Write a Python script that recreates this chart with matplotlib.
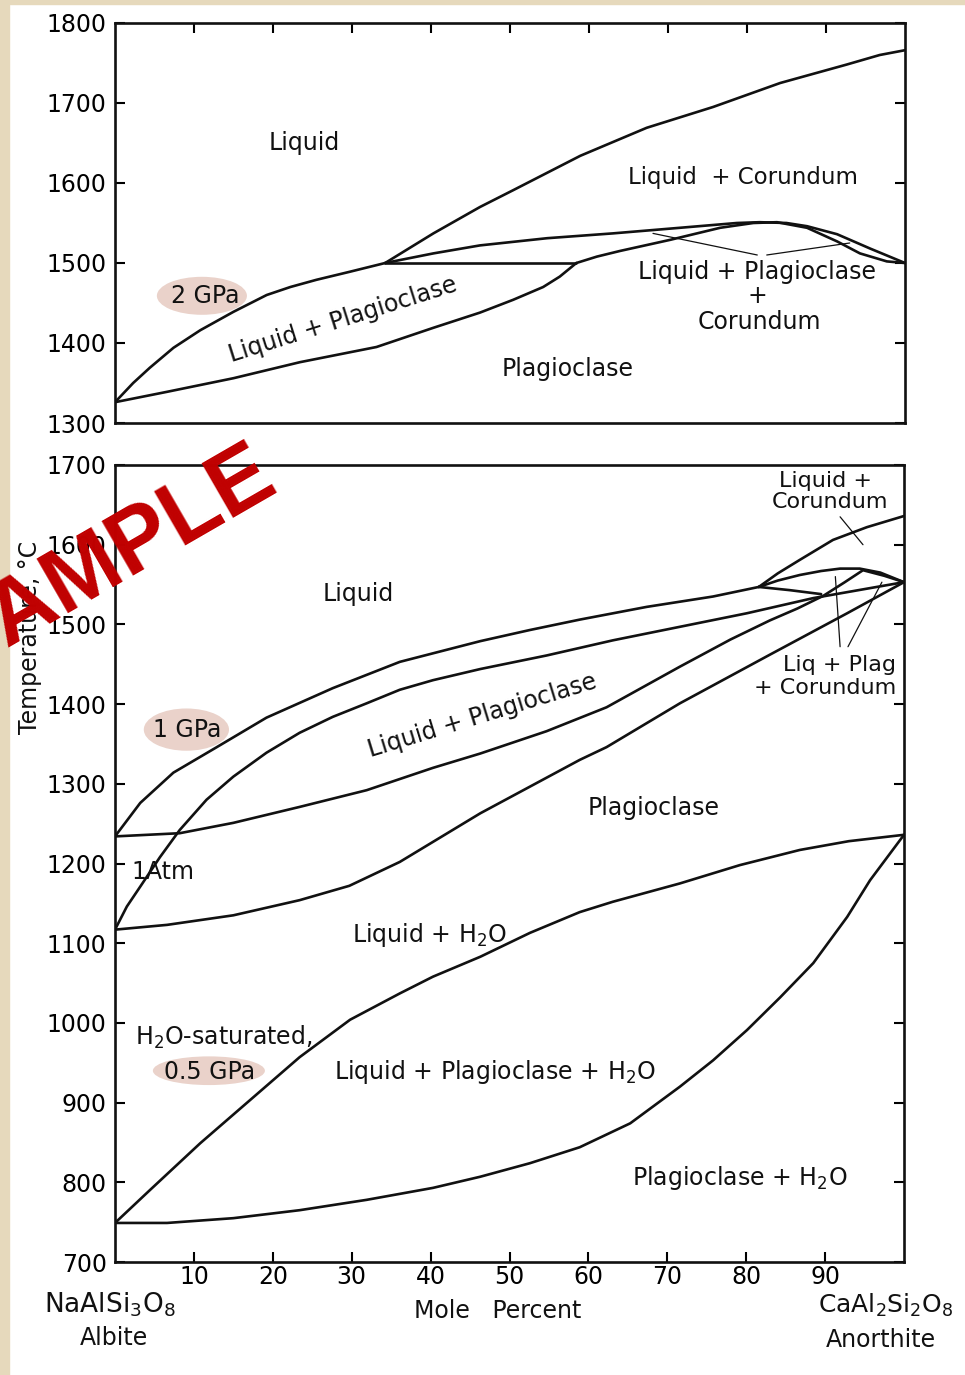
import matplotlib
matplotlib.use("Agg")
import matplotlib.pyplot as plt
from matplotlib.patches import Ellipse, Rectangle

plt.rcParams['font.family'] = ['DejaVu Sans']
plt.rcParams['mathtext.fontset'] = 'dejavusans'
plt.rcParams['mathtext.default'] = 'regular'

# ---------------- data: 2 GPa (top panel) ----------------
top_liq_x = [0, 2.3, 4.4, 7.4, 10.8, 15, 19.2, 22.2, 25.5, 29.7, 34.2]
top_liq_t = [1326, 1350, 1369, 1394, 1416, 1439, 1460, 1470, 1479, 1489, 1500]
top_sol_x = [0, 6.6, 15, 23.4, 33.1, 40.3, 46.2, 50.4, 54.2, 56.3, 58.4]
top_sol_t = [1326, 1339, 1356, 1376, 1395, 1419, 1438, 1454, 1470, 1483, 1500]
top_eut_x = [34.2, 58.4]
top_eut_t = [1500, 1500]
top_cor_x = [34.2, 37, 40.3, 46.2, 50.4, 58.9, 67.3, 75.7, 84.2, 92.6, 96.8, 100]
top_cor_t = [1500, 1517, 1537, 1570, 1591, 1634, 1669, 1695, 1725, 1748, 1760, 1766]
top_a_x = [34.2, 40.3, 46.2, 54.7, 63, 71.5, 78.7, 81.6, 85, 87.6, 91.4, 95.6, 100]
top_a_t = [1500, 1512, 1522, 1531, 1537, 1544, 1550, 1551, 1550, 1546, 1536, 1518, 1500]
top_b_x = [58.4, 61, 63.9, 70.3, 76.6, 80.8, 83.8, 87.6, 91.4, 94.3, 97.7, 100]
top_b_t = [1500, 1508, 1515, 1529, 1544, 1550, 1551, 1544, 1527, 1512, 1502, 1500]
top_lead1_x = [68.1, 81.3]
top_lead1_t = [1537, 1510]
top_lead2_x = [82.5, 93.0]
top_lead2_t = [1510, 1525]

# ---------------- data: bottom panel ----------------
# 1 GPa
g1_liq_x = [0, 3.2, 7.4, 12.9, 19.2, 27.6, 36.1, 46.3, 52.6, 58.9, 67.4, 75.8, 81.6]
g1_liq_t = [1234, 1276, 1314, 1346, 1383, 1420, 1453, 1479, 1493, 1506, 1522, 1535, 1547]
g1_sol_x = [0, 8.2, 15, 23.4, 31.9, 40.3, 46.3, 54.7, 62.3, 71.6, 78, 83, 86.5, 89.8, 92.5, 94.8, 97.5, 100]
g1_sol_t = [1234, 1238, 1251, 1271, 1292, 1320, 1338, 1366, 1396, 1447, 1481, 1505, 1520, 1536, 1553, 1568, 1561, 1553]
g1_cor_x = [81.6, 84, 86.8, 91, 95.3, 100]
g1_cor_t = [1547, 1564, 1581, 1606, 1622, 1636]
g1_lens_x = [81.6, 84, 86.8, 89.5, 91.9, 94.4, 97, 100]
g1_lens_t = [1547, 1555, 1562, 1567, 1570, 1570, 1565, 1553]
g1_low_x = [81.6, 85.5, 89.5]
g1_low_t = [1547, 1543, 1538]
# 1 atm
atm_liq_x = [0, 1.5, 3.2, 5.7, 8.2, 11.6, 15, 19.2, 23.4, 27.6, 31.9, 36.1, 40.3, 46.3, 54.7, 63.1, 71.6, 80.1, 88.5, 100]
atm_liq_t = [1117, 1146, 1171, 1208, 1242, 1280, 1309, 1339, 1364, 1384, 1401, 1418, 1430, 1444, 1461, 1480, 1497, 1514, 1533, 1553]
atm_sol_x = [0, 6.6, 15, 23.4, 29.7, 36.1, 46.3, 58.9, 62.3, 71.6, 83, 92.8, 100]
atm_sol_t = [1117, 1123, 1135, 1154, 1172, 1202, 1263, 1330, 1346, 1401, 1462, 1514, 1553]
# H2O-saturated 0.5 GPa
h2o_liq_x = [0, 4.4, 10.8, 17.1, 23.4, 29.8, 36.1, 40.3, 46.3, 52.6, 58.9, 63.1, 71.6, 79.2, 86.8, 93, 100]
h2o_liq_t = [749, 790, 849, 903, 957, 1004, 1037, 1058, 1083, 1113, 1139, 1152, 1175, 1198, 1217, 1228, 1236]
h2o_sol_x = [0, 6.6, 15, 23.4, 31.9, 40.3, 46.3, 52.6, 58.9, 65.3, 71.6, 75.8, 80.1, 84.3, 88.5, 92.8, 95.7, 100]
h2o_sol_t = [749, 749, 755, 765, 778, 793, 807, 824, 844, 874, 920, 953, 991, 1032, 1075, 1133, 1179, 1236]
# leader lines
bot_lead_cor_x = [91.9, 94.8]
bot_lead_cor_t = [1635, 1600]
bot_lead1_x = [91.3, 91.9]
bot_lead1_t = [1560, 1472]
bot_lead2_x = [92.9, 97.2]
bot_lead2_t = [1472, 1553]

x_ticks = [10, 20, 30, 40, 50, 60, 70, 80, 90]
top_yticks = [1300, 1400, 1500, 1600, 1700, 1800]
bot_yticks = [700, 800, 900, 1000, 1100, 1200, 1300, 1400, 1500, 1600, 1700]

# ---------------- figure ----------------
W, H = 965, 1375
fig = plt.figure(figsize=(W / 100, H / 100), dpi=100)
fig.patch.set_facecolor('white')
beige = '#e6d9bc'
fig.patches.append(Rectangle((0, 0), 9 / W, 1, transform=fig.transFigure, color=beige, zorder=0))
fig.patches.append(Rectangle((0, 1 - 4 / H), 1, 4 / H, transform=fig.transFigure, color=beige, zorder=0))

def px_axes(x0, y0, x1, y1):
    return fig.add_axes([x0 / W, 1 - y1 / H, (x1 - x0) / W, (y1 - y0) / H])

ax1 = px_axes(115, 23, 905, 423)
ax2 = px_axes(115, 465, 904, 1262)

LW = 1.9
TXT = 17
col = '#111111'
pink = '#ead2ca'

for ax in (ax1, ax2):
    ax.set_xlim(0, 100)
    ax.set_facecolor('none')
    for s in ax.spines.values():
        s.set_linewidth(1.9)
        s.set_color(col)
    ax.set_xticks(x_ticks)

ax1.set_ylim(1300, 1800)
ax2.set_ylim(700, 1700)
ax1.set_yticks(top_yticks)
ax2.set_yticks(bot_yticks)

ax1.tick_params(axis='x', direction='in', top=True, bottom=False, labelbottom=False, length=7, width=1.5)
ax1.tick_params(axis='y', direction='in', left=True, right=True, length=7, width=1.5, labelsize=TXT, pad=6)
ax2.tick_params(axis='x', direction='in', top=False, bottom=True, length=7, width=1.5, labelsize=TXT, pad=2)
ax2.tick_params(axis='y', direction='in', left=True, right=True, length=7, width=1.5, labelsize=TXT, pad=6)

def line(ax, xs, ts, lw=LW):
    ax.plot(xs, ts, color=col, lw=lw, solid_capstyle='round', solid_joinstyle='round')

# top panel curves
for xs, ts in [(top_liq_x, top_liq_t), (top_sol_x, top_sol_t), (top_eut_x, top_eut_t),
               (top_cor_x, top_cor_t), (top_a_x, top_a_t), (top_b_x, top_b_t)]:
    line(ax1, xs, ts)
line(ax1, top_lead1_x, top_lead1_t, lw=0.9)
line(ax1, top_lead2_x, top_lead2_t, lw=0.9)

# bottom panel curves
for xs, ts in [(g1_liq_x, g1_liq_t), (g1_sol_x, g1_sol_t), (g1_cor_x, g1_cor_t),
               (g1_lens_x, g1_lens_t), (g1_low_x, g1_low_t),
               (atm_liq_x, atm_liq_t), (atm_sol_x, atm_sol_t),
               (h2o_liq_x, h2o_liq_t), (h2o_sol_x, h2o_sol_t)]:
    line(ax2, xs, ts)
for xs, ts in [(bot_lead_cor_x, bot_lead_cor_t), (bot_lead1_x, bot_lead1_t), (bot_lead2_x, bot_lead2_t)]:
    line(ax2, xs, ts, lw=0.9)

# highlight ellipses
ax1.add_patch(Ellipse((11.0, 1459), 11.4, 47.5, color=pink, zorder=1, lw=0))
ax2.add_patch(Ellipse((9.05, 1368), 10.8, 53, color=pink, zorder=1, lw=0))
ax2.add_patch(Ellipse((11.9, 940), 14.2, 36, color=pink, zorder=1, lw=0))

def t(ax, x, y, s, rot=0, ha='center', size=TXT):
    ax.text(x, y, s, ha=ha, va='center', rotation=rot, rotation_mode='anchor',
            fontsize=size, color=col, zorder=3)

# top labels
t(ax1, 23.9, 1650, 'Liquid')
t(ax1, 79.5, 1607, 'Liquid  + Corundum', size=16.5)
t(ax1, 11.4, 1459, '2 GPa')
t(ax1, 28.9, 1429, 'Liquid + Plagioclase', rot=17.5)
t(ax1, 81.3, 1489, 'Liquid + Plagioclase')
t(ax1, 81.3, 1459, '+')
t(ax1, 81.6, 1426, 'Corundum')
t(ax1, 57.3, 1367, 'Plagioclase')

# bottom labels
t(ax2, 90.1, 1680, 'Liquid +', size=16)
t(ax2, 90.6, 1653, 'Corundum', size=16)
t(ax2, 30.8, 1538, 'Liquid')
t(ax2, 91.8, 1449, 'Liq + Plag', size=16)
t(ax2, 90.0, 1420, '+ Corundum', size=16)
t(ax2, 9.1, 1367, '1 GPa')
t(ax2, 46.5, 1385, 'Liquid + Plagioclase', rot=17)
t(ax2, 68.3, 1270, 'Plagioclase')
t(ax2, 2.1, 1189, '1Atm', ha='left')
t(ax2, 39.9, 1110, 'Liquid + H$_2$O')
t(ax2, 2.5, 982, 'H$_2$O-saturated,', ha='left')
t(ax2, 12.0, 938, '0.5 GPa')
t(ax2, 48.2, 938, 'Liquid + Plagioclase + H$_2$O')
t(ax2, 79.2, 805, 'Plagioclase + H$_2$O')

# axis labels
def ft(xp, yp, s, rot=0, size=TXT, **kw):
    fig.text(xp / W, 1 - yp / H, s, ha='center', va='center', rotation=rot,
             fontsize=size, color=col, **kw)

ft(30, 637, 'Temperature, °C', rot=90)
ft(110, 1305, 'NaAlSi$_3$O$_8$', size=19)
ft(114, 1338, 'Albite')
ft(498, 1311, 'Mole   Percent')
ft(886, 1305, 'CaAl$_2$Si$_2$O$_8$', size=18)
ft(881, 1340, 'Anorthite')

# watermark
fig.text(106 / W, 1 - 563 / H, 'SAMPLE', ha='center', va='center', rotation=30,
         fontsize=65, fontweight='bold', family=['Liberation Sans', 'DejaVu Sans'],
         color='#c00000', zorder=10)

fig.savefig('out.png', dpi=100)
